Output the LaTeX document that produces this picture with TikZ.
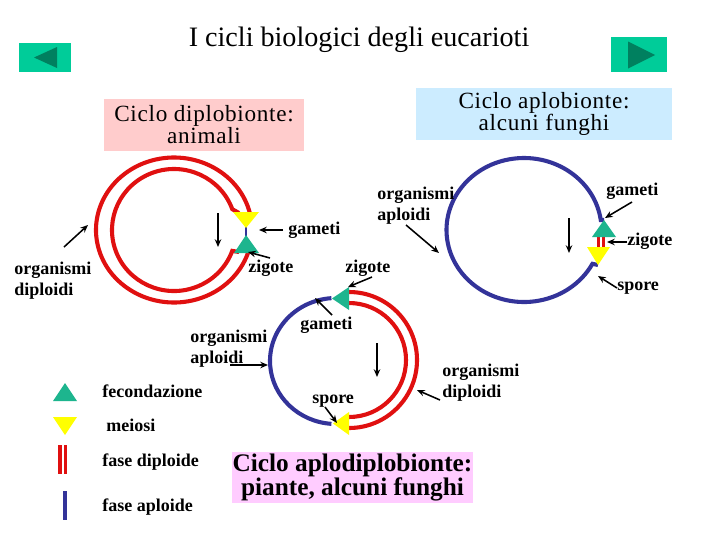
\documentclass[tikz,border=0pt]{standalone}
\usepackage{fontspec}
\setmainfont{Liberation Serif}
\newfontfamily\spacedserif[LetterSpace=3]{Liberation Serif}
\usetikzlibrary{arrows.meta}
\definecolor{ringred}{HTML}{E01010}
\definecolor{ringblue}{HTML}{333399}
\definecolor{trigreen}{HTML}{1DB58E}
\definecolor{triyellow}{HTML}{FFFF00}
\definecolor{btngreen}{HTML}{00CC99}
\definecolor{btndark}{HTML}{00805F}
\definecolor{boxpink}{HTML}{FFCCCC}
\definecolor{boxblue}{HTML}{CCECFF}
\definecolor{boxlav}{HTML}{FFCCFF}
\newcommand\mylblfont{\fontsize{12.8}{15.2}\selectfont\bfseries}
\begin{document}
\begin{tikzpicture}[x=0.025cm,y=-0.025cm,
  ring/.style={draw=ringred,line width=2.9pt},
  hap/.style={draw=ringblue,line width=2.9pt},
  ptr/.style={draw=black,line width=1.1pt,-{Stealth[length=5.5pt,width=4.6pt]}},
  lbl/.style={font=\mylblfont,inner sep=0pt,anchor=base west},
  lbltwo/.style={font=\mylblfont,inner sep=0pt,anchor=west,align=left},
  boxtxt/.style={font={\spacedserif\fontsize{16.5}{15.6}\selectfont\lineskiplimit=-20pt},inner sep=0pt,align=center},
  boxbold/.style={font={\fontsize{18}{16.8}\selectfont\bfseries\lineskiplimit=-20pt},inner sep=0pt,align=center},
  fec/.style={fill=trigreen},
  mei/.style={fill=triyellow}]
\fill[white] (0,0) rectangle (720,540);
\useasboundingbox (0,0) rectangle (720,540);

% title and buttons
\node[font=\fontsize{20}{24}\selectfont,inner sep=0pt] (title) at (359,40) {I cicli biologici degli eucarioti};
\fill[btngreen] (19,43) rectangle (71,72);
\fill[btndark] (34,57.5) -- (57,47) -- (57,68) -- cycle;
\fill[btngreen] (611,37) rectangle (667,72);
\fill[btndark] (655,55) -- (628,41.5) -- (628,68.5) -- cycle;

% boxes
\fill[boxpink] (104,99) rectangle (304,151);
\node[boxtxt] (bxdip) at (204,124.5) {Ciclo diplobionte:\\animali};
\fill[boxblue] (416,88) rectangle (672,140);
\node[boxtxt] (bxapl) at (544,114.2) {Ciclo aplobionte:\\alcuni funghi};
\fill[boxlav] (232,452) rectangle (473,503);
\node[boxbold] (bxad) at (352.5,477.4) {Ciclo aplodiplobionte:\\piante, alcuni funghi};

% ---------- cycle 1: diplobionte ----------
\coordinate (c1) at (174,230);
\draw[ring] ([shift={(-13.5:78 and 72.5)}]c1) arc[start angle=-13.5,end angle=-342,x radius=78,y radius=72.5];
\draw[ring] (239,213) -- ([shift={(-20:62 and 61)}]c1) arc[start angle=-20,end angle=-340,x radius=62,y radius=61] -- (239,252);
\draw[ringblue,line width=2.1pt] (246,226) -- (246,237);
\fill[mei] (233,212) -- (259,212) -- (246,228) -- cycle;
\fill[fec] (246,235) -- (259,253) -- (234,253) -- cycle;

\node[lbl] (g1) at (288,234) {gameti};
\node[lbl] (z1) at (248,272.5) {zigote};
\node[lbltwo] (od1) at (14,280.6) {organismi\\diploidi};
\coordinate (g1s) at (283,230); \coordinate (g1e) at (259,230);
\coordinate (z1s) at (270,258); \coordinate (z1e) at (248,252);
\coordinate (od1s) at (64,247); \coordinate (od1e) at (88,225);
\coordinate (d1s) at (218,213); \coordinate (d1e) at (218,247);
\draw[ptr] (g1s) -- (g1e);
\draw[ptr] (z1s) -- (z1e);
\draw[ptr] (od1s) -- (od1e);
\draw[ptr] (d1s) -- (d1e);

% ---------- cycle 2: aplobionte ----------
\coordinate (c2) at (524,230);
\draw[hap] (604,220) -- ([shift={(-8:77.5 and 72)}]c2) arc[start angle=-8,end angle=-332,x radius=77.5,y radius=72] -- (598,265);
\draw[ringred,line width=1.8pt] (598.5,236) -- (598.5,248);
\draw[ringred,line width=1.8pt] (603.5,236) -- (603.5,248);
\fill[fec] (604,220) -- (616,237) -- (592,237) -- cycle;
\fill[mei] (587,247) -- (610,247) -- (598,265) -- cycle;

\node[lbl] (g2) at (606,195) {gameti};
\node[lbl] (z2) at (627,245.7) {zigote};
\node[lbl] (s2) at (617,290.7) {spore};
\node[lbltwo] (oa2) at (377,205.6) {organismi\\aploidi};
\coordinate (g2s) at (632,202); \coordinate (g2e) at (605,218);
\coordinate (z2s) at (627,242); \coordinate (z2e) at (607,242);
\coordinate (s2s) at (617,288); \coordinate (s2e) at (598,276);
\coordinate (oa2s) at (406,225); \coordinate (oa2e) at (439,253);
\coordinate (d2s) at (569,218); \coordinate (d2e) at (569,253);
\draw[ptr] (g2s) -- (g2e);
\draw[ptr] (z2s) -- (z2e);
\draw[ptr] (s2s) -- (s2e);
\draw[ptr] (oa2s) -- (oa2e);
\draw[ptr] (d2s) -- (d2e);

% ---------- cycle 3: aplodiplobionte ----------
\coordinate (c3) at (336,361);
\coordinate (c3r) at (349,360);
\draw[hap] ([shift={(-94:66 and 63)}]c3) arc[start angle=-94,end angle=-266,x radius=66,y radius=63];
\draw[ring] ([shift={(-90:68)}]c3r) arc[start angle=-90,end angle=90,radius=68];
\draw[ring] ([shift={(-90:57)}]c3r) arc[start angle=-90,end angle=90,radius=57];
\fill[fec] (332,298.5) -- (349,287) -- (349,310) -- cycle;
\fill[mei] (333,423.5) -- (349,412) -- (349,435) -- cycle;

\node[lbl] (z3) at (345,272.7) {zigote};
\node[lbl] (g3) at (300,329.3) {gameti};
\node[lbl] (s3) at (312,403.3) {spore};
\node[lbltwo] (oa3) at (190,348.6) {organismi\\aploidi};
\node[lbltwo] (od3) at (442,382.8) {organismi\\diploidi};
\coordinate (z3s) at (372,277); \coordinate (z3e) at (348,287);
\coordinate (g3s) at (332,315); \coordinate (g3e) at (315,298);
\coordinate (s3s) at (325,407); \coordinate (s3e) at (337,423);
\coordinate (oa3s) at (230,365); \coordinate (oa3e) at (268,365);
\coordinate (od3s) at (440,400); \coordinate (od3e) at (417,390);
\coordinate (d3s) at (377,343); \coordinate (d3e) at (377,377);
\draw[ptr] (z3s) -- (z3e);
\draw[ptr] (g3s) -- (g3e);
\draw[ptr] (s3s) -- (s3e);
\draw[ptr] (oa3s) -- (oa3e);
\draw[ptr] (od3s) -- (od3e);
\draw[ptr] (d3s) -- (d3e);

% ---------- legend ----------
\fill[fec] (65,383) -- (77,401) -- (53,401) -- cycle;
\fill[mei] (53,417) -- (77,417) -- (65,435) -- cycle;
\draw[ringred,line width=2.3pt] (60,445) -- (60,474);
\draw[ringred,line width=2.3pt] (65.5,445) -- (65.5,474);
\draw[ringblue,line width=2.5pt] (65,491) -- (65,520);
\node[lbl] (lfec) at (102,397.7) {fecondazione};
\node[lbl] (lmei) at (106,431.7) {meiosi};
\node[lbl] (ldip) at (102,466.7) {fase diploide};
\node[lbl] (lapl) at (102,511.7) {fase aploide};
\end{tikzpicture}
\end{document}
